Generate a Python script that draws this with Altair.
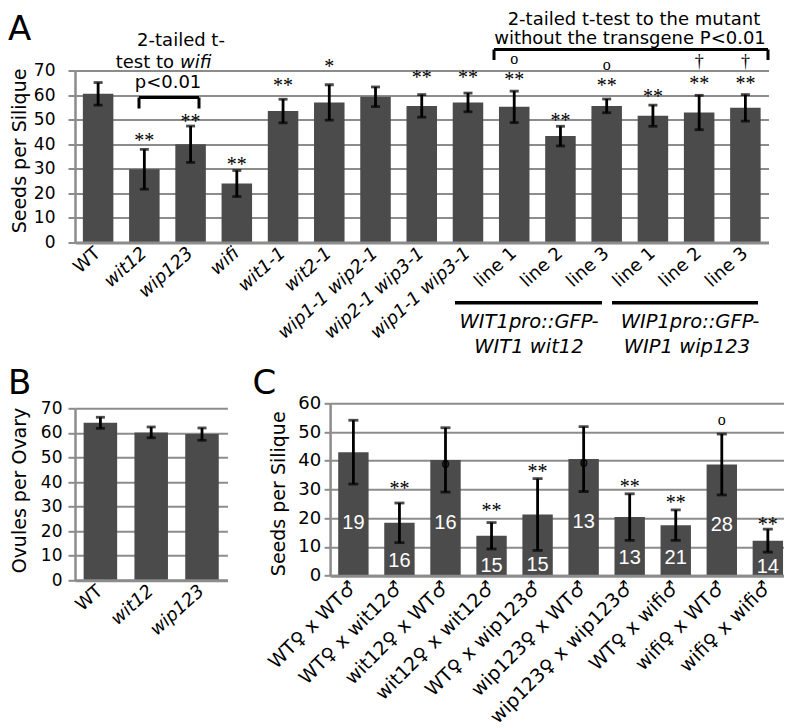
import altair as alt
import pandas as pd

GRID = "#8c8c8c"
BAR = "#4b4b4b"
SANS = "DejaVu Sans"
SERIF = "Liberation Serif"

# ---------------- Panel A data ----------------
a_keys = ["WT", "wit12", "wip123", "wifi", "wit1-1", "wit2-1",
          "wip1-1 wip2-1", "wip2-1 wip3-1", "wip1-1 wip3-1",
          "WIT1 line 1", "WIT1 line 2", "WIT1 line 3",
          "WIP1 line 1", "WIP1 line 2", "WIP1 line 3"]
a_mean = [60.5, 29.8, 40.0, 24.0, 53.5, 57.0, 59.3, 55.6, 57.0, 55.2, 43.3, 55.6, 51.6, 52.9, 54.8]
a_err = [4.6, 8.1, 7.4, 5.3, 4.8, 7.2, 4.0, 4.6, 3.8, 6.4, 4.0, 2.8, 4.3, 7.0, 5.4]
a_star = ["", "**", "**", "**", "**", "*", "", "**", "**", "**", "**", "**", "**", "**", "**"]
a_star_y = [0, 42.8, 50.5, 33.2, 65.4, 72.9, 0, 68.6, 68.6, 67.8, 50.9, 65.4, 60.7, 65.9, 65.9]
a_o = ["", "", "", "", "", "", "", "", "", "o", "", "o", "", "", ""]
a_o_y = [0, 0, 0, 0, 0, 0, 0, 0, 0, 74.4, 0, 71.9, 0, 0, 0]
a_dag = ["", "", "", "", "", "", "", "", "", "", "", "", "", "\u2020", "\u2020"]
a_dag_y = [0, 0, 0, 0, 0, 0, 0, 0, 0, 0, 0, 0, 0, 73.5, 73.5]

# ---------------- Panel B data ----------------
b_keys = ["WT", "wit12", "wip123"]
b_mean = [64.1, 60.2, 59.5]
b_err = [2.25, 2.2, 2.5]

# ---------------- Panel C data ----------------
c_keys = ["WT\u2640 x WT\u2642", "WT\u2640 x wit12\u2642", "wit12\u2640 x WT\u2642",
          "wit12\u2640 x wit12\u2642", "WT\u2640 x wip123\u2642", "wip123\u2640 x WT\u2642",
          "wip123\u2640 x wip123\u2642", "WT\u2640 x wifi\u2642", "wifi\u2640 x WT\u2642",
          "wifi\u2640 x wifi\u2642"]
c_mean = [43.0, 18.4, 40.3, 13.9, 21.3, 40.6, 20.4, 17.6, 38.7, 12.2]
c_err = [11.1, 6.9, 11.2, 4.6, 12.5, 11.3, 8.1, 5.3, 10.6, 4.0]
c_n = ["19", "16", "16", "15", "15", "13", "13", "21", "28", "14"]
c_n_y = [18.5, 5.2, 18.5, 3.5, 3.6, 18.6, 6.0, 6.0, 17.7, 2.9]
c_star = ["", "**", "", "**", "**", "", "**", "**", "", "**"]
c_star_y = [0, 31.6, 0, 24.0, 37.4, 0, 32.2, 26.6, 0, 18.8]
c_o = ["", "", "o", "", "", "o", "", "", "o", ""]
c_o_y = [0, 0, 38.9, 0, 0, 39.2, 0, 0, 54.0, 0]


def frame(keys, mean, err, **extra):
    df = pd.DataFrame({"key": keys, "mean": mean, "err": err, **extra})
    df["lo"] = df["mean"] - df["err"]
    df["hi"] = df["mean"] + df["err"]
    return df


df_a = frame(a_keys, a_mean, a_err, star=a_star, star_y=a_star_y, o=a_o, o_y=a_o_y,
             dag=a_dag, dag_y=a_dag_y)
df_b = frame(b_keys, b_mean, b_err)
df_c = frame(c_keys, c_mean, c_err, n=c_n, n_y=c_n_y, star=c_star, star_y=c_star_y,
             o=c_o, o_y=c_o_y)
one = pd.DataFrame({"d": [0]})

italic_cond = {"condition": {"test": "datum.value == 'WT' || indexof(datum.value, 'line') >= 0",
                             "value": "normal"}, "value": "italic"}


def x_axis(size, angle, style=None, expr=None):
    kw = dict(title=None, labelAngle=angle, labelAlign="right", labelBaseline="middle",
              labelFont=SANS, labelFontSize=size, labelColor="black", labelPadding=8,
              ticks=False, domainColor=GRID, domainWidth=3, labelOverlap=False,
              labelLimit=400, zindex=1)
    if style is not None:
        kw["labelFontStyle"] = style
    if expr is not None:
        kw["labelExpr"] = expr
    return alt.Axis(**kw)


def y_axis(title, top, lsize, lpad, tsize, tx, ty):
    return alt.Axis(values=list(range(0, top + 1, 10)), grid=True, gridColor=GRID, gridWidth=2,
                    domainColor=GRID, domainWidth=2.5, tickColor=GRID, tickWidth=2,
                    tickSize=tsize, labelFont=SANS, labelFontSize=lsize, labelColor="black",
                    labelPadding=lpad, title=title, titleFont=SANS, titleFontSize=19,
                    titleFontWeight="normal", titleColor="black", titleX=tx, titleY=ty,
                    titleBaseline="bottom", titleAngle=270)


def panel(df, keys, xax, xscale, yscale, yax, cap, extra_layers):
    xe = alt.X("key:N", sort=keys, scale=xscale, axis=xax)

    def ye(f):
        return alt.Y(f, type="quantitative", scale=yscale, axis=yax)

    base = alt.Chart(df)
    bars = base.mark_bar(color=BAR).encode(x=xe, y=ye("mean"))
    rule = base.mark_rule(color="black", strokeWidth=2.8).encode(x=xe, y=ye("lo"), y2="hi:Q")
    hi = base.mark_tick(orient="horizontal", color="black", size=cap, thickness=2.8).encode(x=xe, y=ye("hi"))
    lo = base.mark_tick(orient="horizontal", color="black", size=cap, thickness=2.8).encode(x=xe, y=ye("lo"))
    layers = [bars, rule, hi, lo]
    for lay in extra_layers:
        layers.append(lay(base, xe, ye))
    return layers


def sym_layer(field, yfield, size, baseline, dy):
    def f(base, xe, ye):
        return base.transform_filter(f"datum.{field} != ''").mark_text(
            font=SERIF, fontSize=size, baseline=baseline, dy=dy, color="black"
        ).encode(x=xe, y=ye(yfield), text=f"{field}:N")
    return f


def num_layer(base, xe, ye):
    return base.mark_text(font="Liberation Sans", fontSize=20, baseline="middle",
                          color="white").encode(x=xe, y=ye("n_y"), text="n:N")


def rule(x, x2, y, y2, w=3):
    return alt.Chart(one).mark_rule(color="black", strokeWidth=w).encode(
        x=alt.value(x), x2=alt.value(x2), y=alt.value(y), y2=alt.value(y2))


def label(text, x, y, size, align="center", baseline="middle", style="normal"):
    return alt.Chart(one).mark_text(text=text, font=SANS, fontSize=size, align=align,
                                    baseline=baseline, fontStyle=style, color="black").encode(
        x=alt.value(x), y=alt.value(y))


STAR = sym_layer("star", "star_y", 20, "top", -6.2)
OSYM = sym_layer("o", "o_y", 16, "middle", -1)
DAG = sym_layer("dag", "dag_y", 18, "middle", 0)

# ---------------- Panel A ----------------
a_layers = panel(
    df_a, a_keys,
    x_axis(18, -42, italic_cond,
           "indexof(datum.label, 'line') >= 0 ? substring(datum.label, 5) : datum.label"),
    alt.Scale(domain=a_keys, paddingInner=0.34, paddingOuter=0.17),
    alt.Scale(domain=[0, 70], nice=False),
    y_axis("Seeds per Silique", 70, 17, 13, 7, -45.2, 80),
    9,
    [STAR, OSYM, DAG],
)
a_deco = [
    rule(64, 124, 27, 27), rule(64, 64, 27, 38), rule(124, 124, 27, 38),
    rule(419, 693, -21, -21), rule(419, 419, -21, -10.5), rule(693, 693, -21, -10.5),
    rule(380, 527, 232.2, 232.2, 3.5), rule(537, 683, 232.2, 232.2, 3.5),
    label("2-tailed t-", 106, -29.2, 18),
    label("test to", 99, -7.2, 18, align="right"),
    label("wifi", 105, -7.2, 18, align="left", style="italic"),
    label("p<0.01", 93, 12.2, 18),
    label("2-tailed t-test to the mutant", 559, -60, 18, baseline="top"),
    label("without the transgene P<0.01", 555, -40.5, 18, baseline="top"),
    label("WIT1pro::GFP-", 454, 251, 19.5, style="italic"),
    label("WIT1 wit12", 454, 276.5, 19.5, style="italic"),
    label("WIP1pro::GFP-", 615, 251, 19.5, style="italic"),
    label("WIP1 wip123", 612, 276.5, 19.5, style="italic"),
    label("A", -67, -57.8, 34, align="left", baseline="top"),
]
chart_a = alt.layer(*a_layers, *a_deco).properties(width=693.5, height=172)

# ---------------- Panel B ----------------
b_layers = panel(
    df_b, b_keys,
    x_axis(18, -42, italic_cond),
    alt.Scale(domain=b_keys, paddingInner=0.34, paddingOuter=0.17),
    alt.Scale(domain=[0, 70], nice=False, range=[177, 5]),
    y_axis("Ovules per Ovary", 70, 17, 6, 7, -45.2, 86.7),
    9,
    [],
)
chart_b = alt.layer(*b_layers, label("B", -67, -36.3, 34, align="left", baseline="top")).properties(
    width=152.4, height=177)

# ---------------- Panel C ----------------
c_layers = panel(
    df_c, c_keys,
    x_axis(19, -45),
    alt.Scale(domain=c_keys, paddingInner=0.34, paddingOuter=0.094, align=0.935),
    alt.Scale(domain=[0, 60], nice=False),
    y_axis("Seeds per Silique", 60, 18, 3.5, 6, -42, 90),
    10,
    [num_layer, STAR, OSYM],
)
chart_c = alt.layer(*c_layers, label("C", -77.5, -36.3, 34, align="left", baseline="top")).properties(
    width=453.5, height=172.4)

bottom = alt.hconcat(chart_b, chart_c, spacing=102.1, bounds="flush")
chart = alt.vconcat(chart_a, bottom, spacing=160.8, bounds="flush").properties(
    padding={"top": 2.5, "left": 0, "right": 0, "bottom": 1}).configure_view(strokeWidth=0)

chart.save("out.html", embed_options={"renderer": "svg", "actions": False})
